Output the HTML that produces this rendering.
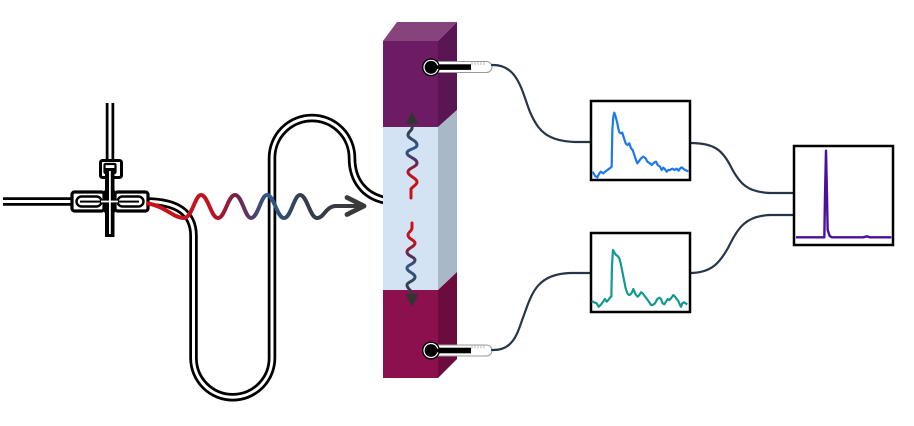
<!DOCTYPE html>
<html><head><meta charset="utf-8"><style>html,body{margin:0;padding:0;background:#fff}svg{display:block}</style></head>
<body>
<svg width="914" height="426" viewBox="0 0 914 426" xmlns="http://www.w3.org/2000/svg">
<defs>
<linearGradient id="gMain" gradientUnits="userSpaceOnUse" x1="150" y1="0" x2="365" y2="0">
<stop offset="0" stop-color="#cc1018"/>
<stop offset="0.28" stop-color="#c0141f"/>
<stop offset="0.40" stop-color="#74234a"/>
<stop offset="0.55" stop-color="#2e5a8c"/>
<stop offset="0.72" stop-color="#353c4a"/>
<stop offset="1" stop-color="#3a3a3a"/>
</linearGradient>
<linearGradient id="gUp" gradientUnits="userSpaceOnUse" x1="0" y1="197" x2="0" y2="118">
<stop offset="0" stop-color="#cc1018"/>
<stop offset="0.28" stop-color="#c0141f"/>
<stop offset="0.45" stop-color="#5a2a55"/>
<stop offset="0.6" stop-color="#2e5a8c"/>
<stop offset="0.85" stop-color="#353c4a"/>
<stop offset="1" stop-color="#333"/>
</linearGradient>
<linearGradient id="gDown" gradientUnits="userSpaceOnUse" x1="0" y1="223" x2="0" y2="300">
<stop offset="0" stop-color="#cc1018"/>
<stop offset="0.25" stop-color="#c0141f"/>
<stop offset="0.42" stop-color="#5a2a55"/>
<stop offset="0.58" stop-color="#2e5a8c"/>
<stop offset="0.85" stop-color="#353c4a"/>
<stop offset="1" stop-color="#333"/>
</linearGradient>
</defs>
<rect width="914" height="426" fill="#fff"/>

<!-- tubing -->
<g fill="none">
<path d="M3,201.5 H74" stroke="#000" stroke-width="8.5"/>
<path d="M3,201.5 H74" stroke="#fff" stroke-width="3"/>
<path d="M110,103 V162" stroke="#000" stroke-width="8.5"/>
<path d="M110,103 V162" stroke="#fff" stroke-width="3"/>
<path d="M146,201.5 C176,201.5 193.5,212 193.5,236 L193.5,358 A39.25,39.25 0 0 0 272,358 L272,158 A40,40 0 0 1 352,158 C352,182 366,196 384,200" stroke="#000" stroke-width="8.5"/>
<path d="M146,201.5 C176,201.5 193.5,212 193.5,236 L193.5,358 A39.25,39.25 0 0 0 272,358 L272,158 A40,40 0 0 1 352,158 C352,182 366,196 384,200" stroke="#fff" stroke-width="3"/>
</g>

<!-- fitting -->
<g>
<!-- top nut -->
<rect x="100.5" y="160.5" width="21" height="17" rx="2" fill="#fff" stroke="#000" stroke-width="3"/>
<rect x="104.5" y="164" width="11" height="9" rx="1" fill="#fff" stroke="#000" stroke-width="2.2"/>
<!-- vertical stem -->
<rect x="105" y="168" width="9.5" height="69" fill="#000"/>
<rect x="109" y="171" width="1.8" height="63" fill="#fff"/>
<!-- left nut -->
<rect x="72" y="192" width="32" height="19" rx="2.5" fill="#fff" stroke="#000" stroke-width="3.2"/>
<rect x="76.5" y="196.5" width="25" height="10" rx="5" fill="#fff" stroke="#000" stroke-width="2.4"/>
<rect x="80" y="200.6" width="22" height="2" fill="#000"/>
<!-- right nut -->
<rect x="115" y="192" width="33" height="19" rx="2.5" fill="#fff" stroke="#000" stroke-width="3.2"/>
<rect x="117.5" y="196.5" width="26" height="10" rx="5" fill="#fff" stroke="#000" stroke-width="2.4"/>
<rect x="117" y="200.6" width="22" height="2" fill="#000"/>
<!-- center cross -->
<rect x="104" y="190.5" width="11" height="22" fill="#000"/>
<rect x="109" y="190" width="1.8" height="23" fill="#fff"/>
<rect x="101" y="200.6" width="17" height="1.8" fill="#fff"/>
</g>

<!-- main wave -->
<path d="M148,203.5 C165,206 173,218 184,218 C192,218 195,195 201,195 C208,195 211,218 218,218 C225,218 228,195 235,195 C242,195 245,218 251,218 C258,218 261,195 267,195 C274,195 277,218 284,218 C291,218 294,195 300,195 C307,195 310,218 317,218 C324,218 326,206 336,206 L362,206" fill="none" stroke="url(#gMain)" stroke-width="4" stroke-linecap="round"/>
<polyline points="347,197.5 364,206 347,214.5" fill="none" stroke="#3a3a3a" stroke-width="4.8" stroke-linecap="round" stroke-linejoin="round"/>

<!-- column -->
<g>
<polygon points="383,41 397,22 457,22 438,41" fill="#86437c"/>
<polygon points="438,41 457,22 457,110 438,127" fill="#5a1652"/>
<rect x="383" y="41" width="55" height="86" fill="#6d1c63"/>
<polygon points="438,127 457,110 457,272 438,290" fill="#a9b8c7"/>
<rect x="383" y="127" width="55" height="163" fill="#d4e3f3"/>
<polygon points="438,290 457,272 457,359 438,378" fill="#6c0b3d"/>
<rect x="383" y="290" width="55" height="88" fill="#8c104e"/>
</g>

<!-- small waves in column -->
<path d="M411,198 L411,189 C413,186 417,185 417,182 C417,178 408,176 408,172 C408,168 417,167 417,163 C417,158 407,157 407,153 C407,149 417,149 417,145 C417,140 408,139 408,135 C408,131 413,131 412,126" fill="none" stroke="url(#gUp)" stroke-width="3" stroke-linecap="round"/>
<polygon points="412,112 405.5,124 418.5,124" fill="#333"/>
<path d="M412,223 L412,228 C412,231 408,232 408,235 C408,239 415,240 415,243 C415,247 407,248 407,252 C407,256 415,257 415,260 C415,264 407,265 407,268 C407,272 415,273 415,277 C415,281 407,282 407,285 C407,289 412,290 412,294" fill="none" stroke="url(#gDown)" stroke-width="3" stroke-linecap="round"/>
<polygon points="412,307 405.5,294 418.5,294" fill="#333"/>

<!-- thermometers -->
<g>
<rect x="433" y="61.5" width="59" height="11" rx="5.5" fill="#fff" stroke="#999" stroke-width="1"/>
<g stroke="#aaa" stroke-width="0.8"><path d="M472,62 v3 M475,62 v3 M478,62 v3 M481,62 v3 M484,62 v3"/></g>
<rect x="431" y="64.3" width="40" height="5.6" fill="#000"/>
<circle cx="431" cy="67.3" r="9" fill="#000"/>
<circle cx="431" cy="67.3" r="7.6" fill="#fff"/>
<circle cx="431" cy="67.3" r="6.4" fill="#000"/>
<rect x="433.5" y="65.3" width="37" height="3.6" fill="#000"/>

<rect x="433" y="345" width="59" height="11" rx="5.5" fill="#fff" stroke="#999" stroke-width="1"/>
<g stroke="#aaa" stroke-width="0.8"><path d="M472,345.5 v3 M475,345.5 v3 M478,345.5 v3 M481,345.5 v3 M484,345.5 v3"/></g>
<rect x="431" y="347.7" width="40" height="5.6" fill="#000"/>
<circle cx="431" cy="350.5" r="9" fill="#000"/>
<circle cx="431" cy="350.5" r="7.6" fill="#fff"/>
<circle cx="431" cy="350.5" r="6.4" fill="#000"/>
<rect x="433.5" y="348.7" width="37" height="3.6" fill="#000"/>
</g>

<!-- cables -->
<g fill="none" stroke="#283548" stroke-width="2.2" stroke-linecap="round">
<path d="M492,65 C518,64 522,92 530,112 C538,130 546,141 575,142 L591,142"/>
<path d="M492,350 C515,351 518,330 524,315 C532,292 538,274 570,273 L591,273"/>
<path d="M690,143 C714,143 722,150 730,165 C740,185 748,192 770,193 L794,193"/>
<path d="M690,273 C712,273 720,262 728,248 C738,228 745,216 770,215 L794,215"/>
</g>

<!-- graph boxes -->
<rect x="591" y="101" width="99" height="79" fill="#fff" stroke="#000" stroke-width="2.5"/>
<rect x="591" y="233" width="99" height="79" fill="#fff" stroke="#000" stroke-width="2.5"/>
<rect x="794" y="146" width="99" height="99" fill="#fff" stroke="#000" stroke-width="2.5"/>

<g transform="translate(580,90) scale(0.33333)">
<polyline fill="none" stroke="#1c78f0" stroke-width="2.2" vector-effect="non-scaling-stroke" stroke-linejoin="round"
points="38,245 45,258 52,262 58,250 62,245 70,250 78,243 85,238 92,233 95,230 97,120 100,80 103,68 107,80 112,100 117,125 122,130 127,128 132,145 137,160 142,165 148,160 153,175 158,180 163,195 168,210 172,220 178,212 183,205 190,200 197,205 202,215 210,220 215,225 222,218 228,215 233,225 240,230 245,240 250,233 255,238 260,245 265,240 270,240 277,236 283,240 290,236 296,242 300,236 305,232 310,236 315,240 320,242 325,244"/>
</g>
<g transform="translate(580,225) scale(0.33333)">
<polyline fill="none" stroke="#13998f" stroke-width="2.2" vector-effect="non-scaling-stroke" stroke-linejoin="round"
points="35,228 42,232 50,235 56,245 62,240 68,232 75,222 80,230 85,225 90,218 94,215 96,120 99,75 103,82 108,90 113,93 118,100 122,115 127,140 132,165 137,190 142,205 147,210 152,208 157,200 160,192 163,200 168,210 173,215 178,210 183,202 188,205 193,212 198,218 203,225 208,232 213,240 218,240 225,235 232,222 238,218 243,222 248,235 253,238 258,230 263,222 268,225 273,220 280,210 285,215 290,222 295,228 300,240 303,245 307,235 312,232 318,236 322,238"/>
</g>
<g transform="translate(690,130) scale(0.33333)">
<polyline fill="none" stroke="#4b109b" stroke-width="2.4" vector-effect="non-scaling-stroke" stroke-linejoin="round"
points="318,322 403,322 405,200 408,62 411,200 413,300 419,318 426,322 520,322 530,319 540,322 604,322"/>
</g>
</svg>
</body></html>
